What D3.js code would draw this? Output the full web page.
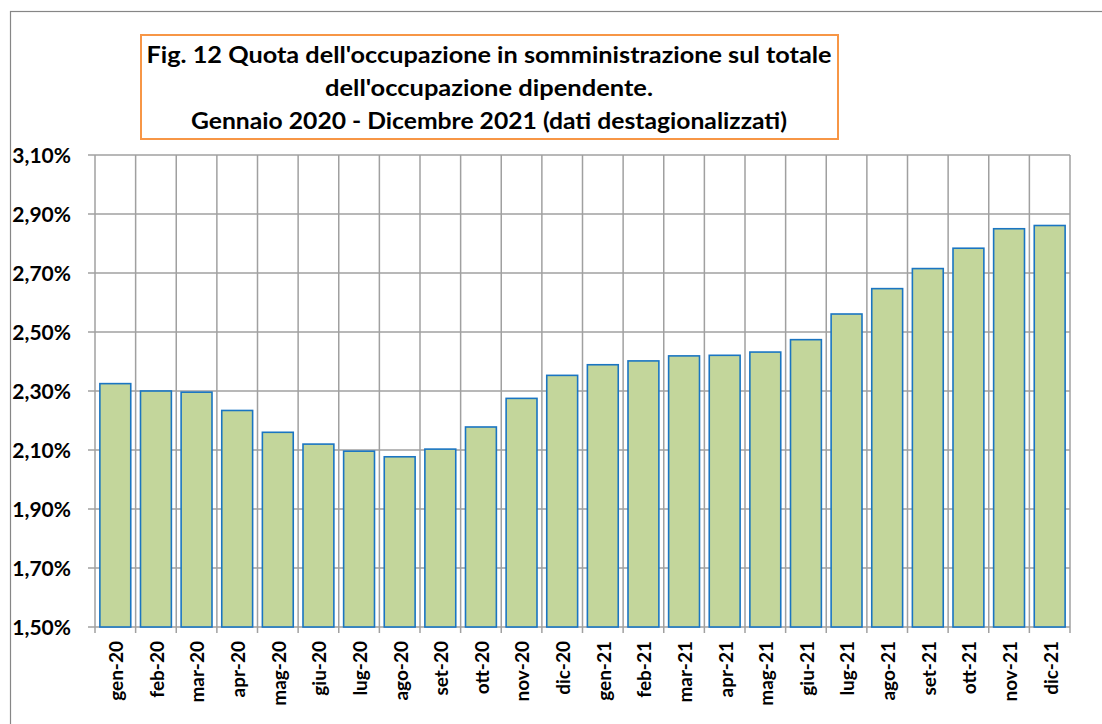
<!DOCTYPE html>
<html>
<head>
<meta charset="utf-8">
<script src="https://cdn.jsdelivr.net/npm/d3@7"></script>
<style>
  html, body { margin: 0; padding: 0; background: #fff; }
  svg { display: block; }
  text { font-family: Lato, "Open Sans", sans-serif; font-weight: bold; fill: #000; }
</style>
</head>
<body>
<svg id="chart" width="1102" height="724"></svg>
<script>
const months = ["gen-20","feb-20","mar-20","apr-20","mag-20","giu-20","lug-20","ago-20","set-20","ott-20","nov-20","dic-20",
                "gen-21","feb-21","mar-21","apr-21","mag-21","giu-21","lug-21","ago-21","set-21","ott-21","nov-21","dic-21"];
const shares = [2.325, 2.300, 2.296, 2.234, 2.160, 2.120, 2.096, 2.077, 2.103, 2.178, 2.275, 2.353,
                2.389, 2.402, 2.419, 2.421, 2.432, 2.474, 2.561, 2.647, 2.715, 2.784, 2.850, 2.861];
const yTicks = [1.5, 1.7, 1.9, 2.1, 2.3, 2.5, 2.7, 2.9, 3.1];
const titleLines = ["Fig. 12 Quota dell'occupazione in somministrazione sul totale",
                    "dell'occupazione dipendente.",
                    "Gennaio 2020 - Dicembre 2021 (dati destagionalizzati)"];
const titleWidths = [685, 328, 596];

const svg = d3.select("#chart");
const L = 95, R = 1070, T = 155, B = 627;

// outer chart border
svg.append("rect").attr("x", 10.5).attr("y", 11.5).attr("width", 1200).attr("height", 800)
  .attr("fill", "none").attr("stroke", "#868686").attr("stroke-width", 1.2);

const y = d3.scaleLinear().domain([1.5, 3.1]).range([B, T]);
const xGrid = d3.scaleBand().domain(months).range([L, R]).padding(0);
const x = d3.scaleBand().domain(months).range([L, R]).paddingInner(0.24).paddingOuter(0.12);

const gridColor = "#a0a0a0";
svg.append("g").selectAll("line").data(yTicks).join("line")
  .attr("x1", L - 7).attr("x2", R).attr("y1", d => y(d)).attr("y2", d => y(d))
  .attr("stroke", gridColor).attr("stroke-width", 1.5);
const vb = months.map(m => xGrid(m)).concat([R]);
svg.append("g").selectAll("line").data(vb).join("line")
  .attr("x1", d => d).attr("x2", d => d).attr("y1", T).attr("y2", B + 6)
  .attr("stroke", gridColor).attr("stroke-width", 1.5);

svg.append("g").selectAll("rect").data(months).join("rect")
  .attr("x", (d) => x(d))
  .attr("width", x.bandwidth())
  .attr("y", (d, i) => y(shares[i]))
  .attr("height", (d, i) => y(1.5) - y(shares[i]))
  .attr("fill", "#c3d69b")
  .attr("stroke", "#1a75c2")
  .attr("stroke-width", 1.6);

const fmt = v => v.toFixed(2).replace(".", ",") + "%";
svg.append("g").selectAll("text").data(yTicks).join("text")
  .attr("x", 71).attr("y", d => y(d)).attr("dy", "0.36em")
  .attr("text-anchor", "end").style("font-size", "21px")
  .text(fmt);

svg.append("g").selectAll("text").data(months).join("text")
  .attr("transform", d => `translate(${xGrid(d) + xGrid.bandwidth() / 2 + 1},641) rotate(-90)`)
  .attr("dy", "0.36em")
  .attr("text-anchor", "end").style("font-size", "19px")
  .text(d => d);

svg.append("rect").attr("x", 141).attr("y", 35).attr("width", 697).attr("height", 104)
  .attr("fill", "#fff").attr("stroke", "#f79646").attr("stroke-width", 2);
svg.append("g").selectAll("text").data(titleLines).join("text")
  .attr("x", 489).attr("y", (d, i) => 63 + i * 33)
  .attr("text-anchor", "middle").style("font-size", "23px")
  .attr("textLength", (d, i) => titleWidths[i])
  .attr("lengthAdjust", "spacingAndGlyphs")
  .text(d => d);
</script>
</body>
</html>
